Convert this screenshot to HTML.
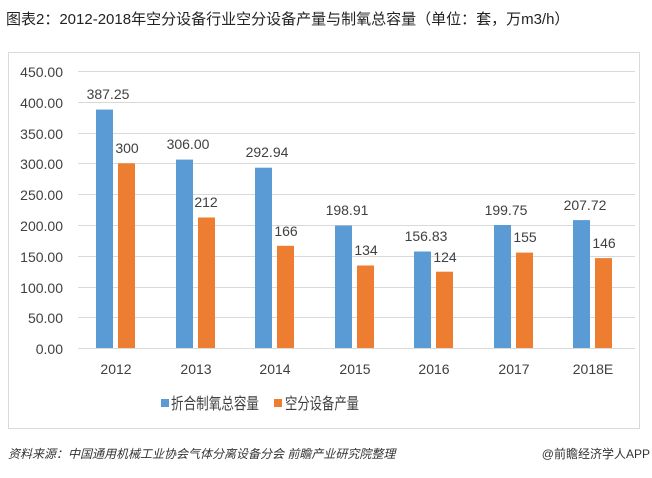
<!DOCTYPE html>
<html><head><meta charset="utf-8"><style>
body{margin:0;background:#fff;width:652px;height:473px;overflow:hidden;font-family:"Liberation Sans","Noto Sans CJK SC",sans-serif}
</style></head><body>
<svg width="652" height="473" xmlns="http://www.w3.org/2000/svg" font-family="Liberation Sans, Noto Sans CJK SC, sans-serif">
<text x="6" y="24" font-size="15" fill="#222">图表2：2012-2018年空分设备行业空分设备产量与制氧总容量（单位：套，万m3/h）</text>
<rect x="8.5" y="52.5" width="631" height="376" fill="none" stroke="#d9d9d9"/>
<g stroke="#d9d9d9" stroke-width="1">
<line x1="78" x2="635" y1="71.5" y2="71.5"/><line x1="78" x2="635" y1="102.5" y2="102.5"/>
<line x1="78" x2="635" y1="133.5" y2="133.5"/><line x1="78" x2="635" y1="163.5" y2="163.5"/>
<line x1="78" x2="635" y1="194.5" y2="194.5"/><line x1="78" x2="635" y1="225.5" y2="225.5"/>
<line x1="78" x2="635" y1="256.5" y2="256.5"/><line x1="78" x2="635" y1="287.5" y2="287.5"/>
<line x1="78" x2="635" y1="317.5" y2="317.5"/><line x1="78" x2="635" y1="348.5" y2="348.5"/>
</g>
<g font-size="14" fill="#404040" text-anchor="end">
<text x="63" y="77">450.00</text><text x="63" y="108">400.00</text><text x="63" y="139">350.00</text>
<text x="63" y="169">300.00</text><text x="63" y="200">250.00</text><text x="63" y="231">200.00</text>
<text x="63" y="262">150.00</text><text x="63" y="293">100.00</text><text x="63" y="323">50.00</text>
<text x="63" y="354">0.00</text>
</g>
<g fill="#5b9bd5">
<rect x="96" y="109.6" width="17" height="238.4"/>
<rect x="176" y="159.6" width="17" height="188.4"/>
<rect x="255" y="167.7" width="17" height="180.3"/>
<rect x="335" y="225.5" width="17" height="122.5"/>
<rect x="414" y="251.5" width="17" height="96.5"/>
<rect x="494" y="225" width="17" height="123"/>
<rect x="573" y="220.1" width="17" height="127.9"/>
</g>
<g fill="#ed7d31">
<rect x="118" y="163.3" width="17" height="184.7"/>
<rect x="198" y="217.5" width="17" height="130.5"/>
<rect x="277" y="245.8" width="17" height="102.2"/>
<rect x="357" y="265.5" width="17" height="82.5"/>
<rect x="436" y="271.7" width="17" height="76.3"/>
<rect x="516" y="252.6" width="17" height="95.4"/>
<rect x="595" y="258.1" width="17" height="89.9"/>
</g>
<g font-size="14" fill="#404040" text-anchor="middle">
<text x="108" y="99">387.25</text><text x="127" y="153">300</text>
<text x="188" y="149">306.00</text><text x="206" y="207">212</text>
<text x="267" y="157">292.94</text><text x="286" y="236">166</text>
<text x="347" y="215">198.91</text><text x="366" y="255">134</text>
<text x="426" y="241">156.83</text><text x="445" y="262">124</text>
<text x="506" y="215">199.75</text><text x="525" y="242">155</text>
<text x="585" y="210">207.72</text><text x="604" y="248">146</text>
</g>
<g font-size="14" fill="#404040" text-anchor="middle">
<text x="116" y="374">2012</text><text x="196" y="374">2013</text><text x="275" y="374">2014</text>
<text x="355" y="374">2015</text><text x="434" y="374">2016</text><text x="514" y="374">2017</text>
<text x="593" y="374">2018E</text>
</g>
<rect x="161" y="399" width="8" height="8" fill="#5b9bd5"/>
<text x="171" y="409" font-size="16" fill="#404040" textLength="88" lengthAdjust="spacingAndGlyphs">折合制氧总容量</text>
<rect x="274" y="399" width="8" height="8" fill="#ed7d31"/>
<text x="285" y="409" font-size="16" fill="#404040" textLength="74" lengthAdjust="spacingAndGlyphs">空分设备产量</text>
<text x="8" y="458" font-size="12" fill="#333" font-style="italic">资料来源：中国通用机械工业协会气体分离设备分会 前瞻产业研究院整理</text>
<text x="650" y="458" font-size="12" fill="#333" text-anchor="end">@前瞻经济学人APP</text>
</svg>
</body></html>
